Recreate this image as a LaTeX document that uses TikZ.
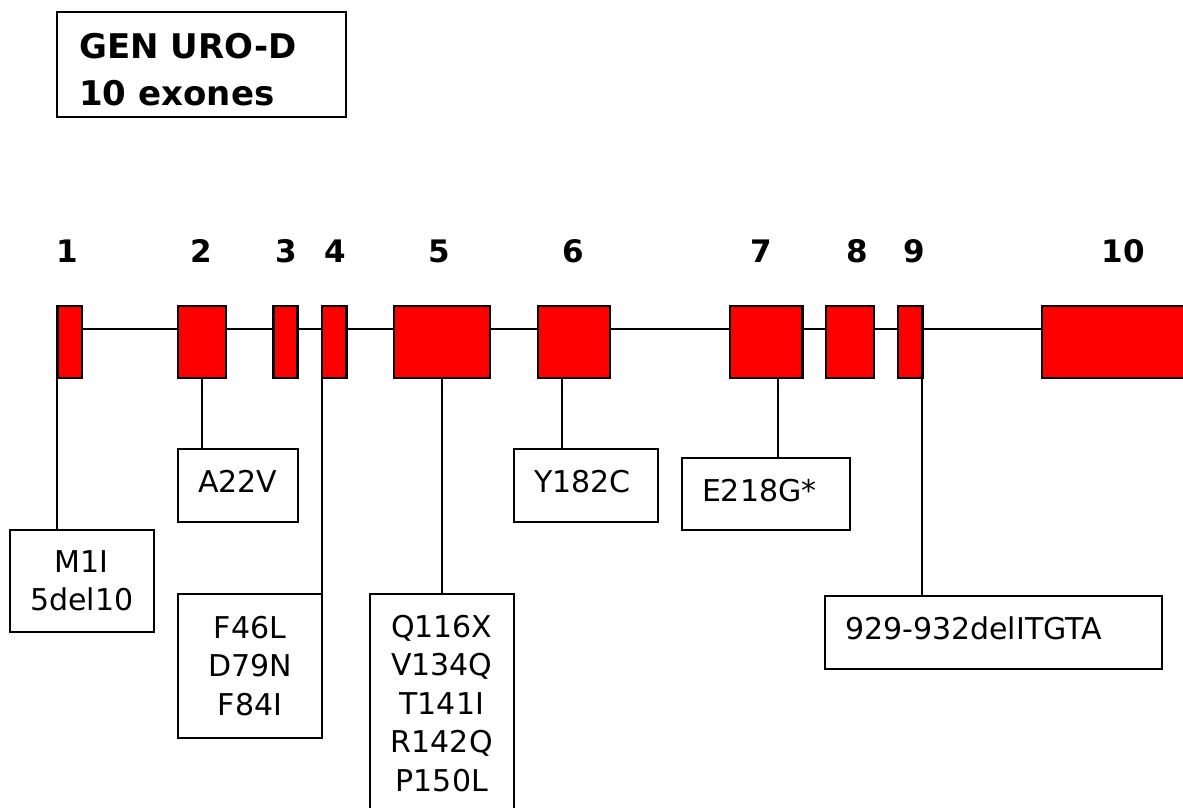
\documentclass[tikz,border=0pt]{standalone}
\usepackage{fontspec}
\setmainfont{DejaVu Sans}
\tikzset{every picture/.style = {x=0.5pt, y=-0.5pt}}
\tikzset{exon/.style = {draw, fill=red, line width=1.2pt, inner sep=0, minimum height=36pt}}
\tikzset{intron/.style = {line width=1pt}}
\tikzset{stem/.style = {line width=1pt}}
\tikzset{num/.style = {anchor=base, font=\fontsize{15.5}{18}\selectfont\bfseries}}
\tikzset{titlebox/.style = {draw, line width=1.1pt, minimum width=144.5pt, minimum height=52.5pt}}
\tikzset{titletext/.style = {align=left, inner sep=0, font=\fontsize{17}{23.5}\selectfont\bfseries}}
\tikzset{mut/.style = {draw, line width=1.1pt, align=center, inner sep=0, font=\fontsize{15}{19.2}\selectfont}}
\tikzset{mutl/.style = {draw, line width=1.1pt, align=left, inner xsep=10pt, inner ysep=0,
    text height=10pt, text depth=3pt, font=\fontsize{15}{19.2}\selectfont}}

\begin{document}
\begin{tikzpicture}
  \useasboundingbox (0,0) rectangle (1183,808);
  \node[titlebox] (gen) at (201.5,64.5) {};
  \node[titletext, anchor=west] (gentext) at ([xshift=11.5pt, yshift=-2.5pt]gen.west) {GEN URO-D\\10 exones};
  % exones
  \foreach \n/\x/\w in {1/69.7/12.3, 2/202/24, 3/285.6/12, 4/334.2/12.2, 5/442/48.2,
                        6/574/36, 7/766/36.3, 8/850/24.2, 9/910/12.3, 10/1142/100}
    \node[exon, minimum width=\w pt] (e\n) at (\x,342) {};
  \foreach \n/\x in {1/67.7, 2/201, 3/286, 4/335, 5/439, 6/573, 7/761.5, 8/857, 9/914, 10/1123.5}
    \node[num] (n\n) at (\x,262) {\n};
  \coordinate (axis) at (0,329);
  \foreach \a/\b in {1/2, 2/3, 3/4, 4/5, 5/6, 6/7, 7/8, 8/9, 9/10}
    \draw[intron] (e\a.east |- axis) -- (e\b.west |- axis);
  % mutaciones
  \node[mut, minimum width=72.2pt, minimum height=51pt] (m1) at (81.8,581) {M1I\\5del10};
  \node[mutl, text width=40pt, minimum height=36.4pt] (m2) at (238,485.5) {A22V};
  \node[mut, minimum width=72pt, minimum height=72pt] (m4) at (250,665.7) {F46L\\D79N\\F84I};
  \node[mut, minimum width=72.2pt, minimum height=109.5pt] (m5) at (441.8,703.3) {Q116X\\V134Q\\T141I\\R142Q\\P150L};
  \node[mutl, text width=52pt, minimum height=36.4pt] (m6) at (586,485.4) {Y182C};
  \node[mutl, text width=64pt, minimum height=36pt] (m7) at (766,494) {E218G*};
  \node[mutl, text width=148.5pt, minimum height=36.5pt] (m9) at (993.5,632.5) {929-932delITGTA};
  \coordinate (c1) at ([xshift=0.6pt]e1.south west);
  \coordinate (c4) at ([xshift=0.6pt]e4.south west);
  \coordinate (c6) at ([xshift=-6pt]e6.south);
  \coordinate (c7) at ([xshift=6pt]e7.south);
  \coordinate (c9) at ([xshift=-0.6pt]e9.south east);
  \draw[stem] (c1) -- (c1 |- m1.north);
  \draw[stem] (e2.south) -- (e2.south |- m2.north);
  \draw[stem] (c4) -- (c4 |- m4.north);
  \draw[stem] (e5.south) -- (e5.south |- m5.north);
  \draw[stem] (c6) -- (c6 |- m6.north);
  \draw[stem] (c7) -- (c7 |- m7.north);
  \draw[stem] (c9) -- (c9 |- m9.north);
\end{tikzpicture}
\end{document}
